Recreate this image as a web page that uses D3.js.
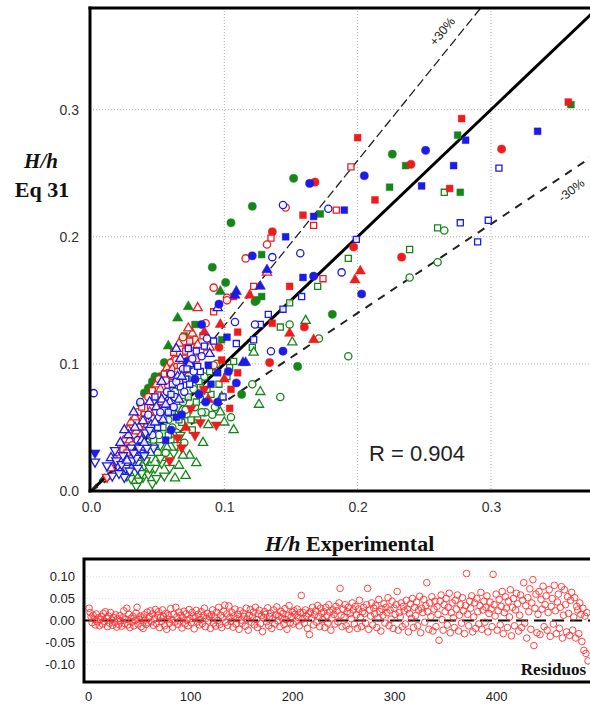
<!DOCTYPE html>
<html><head><meta charset="utf-8">
<script src="https://cdn.jsdelivr.net/npm/d3@7"></script>
<style>body{margin:0;background:#fff} svg{display:block}</style>
</head><body><svg id="c" width="590" height="708"></svg>
<script>
// ---------- DATA ----------
const mainTickValues=[0,0.1,0.2,0.3];
const mainTickLabels=["0.0","0.1","0.2","0.3"];
// codes: fc filled circle, oc open circle, fs filled square, os open square,
// ft filled triangle up, ot open triangle up, fv filled triangle down, ov open triangle down
const greenPts=[
[0.360,0.304,"fs"],[0.275,0.280,"fs"],[0.226,0.265,"fc"],[0.236,0.256,"fs"],[0.224,0.239,"fs"],[0.277,0.235,"fs"],[0.265,0.235,"os"],[0.172,0.218,"fs"],[0.260,0.207,"os"],[0.265,0.205,"oc"],[0.239,0.190,"os"],[0.260,0.180,"oc"],[0.193,0.183,"os"],[0.239,0.168,"oc"],[0.170,0.161,"os"],[0.181,0.139,"fc"],[0.161,0.134,"ot"],[0.171,0.120,"oc"],[0.151,0.117,"ot"],[0.193,0.106,"oc"],[0.155,0.098,"fc"],[0.149,0.131,"oc"],[0.149,0.148,"os"],[0.142,0.129,"os"],[0.121,0.113,"os"],[0.122,0.109,"ot"],[0.107,0.102,"os"],[0.121,0.084,"oc"],[0.127,0.078,"ot"],[0.126,0.068,"ot"],[0.142,0.074,"oc"],[0.113,0.076,"fc"],[0.123,0.149,"fc"],[0.152,0.246,"fc"],[0.121,0.224,"fc"],[0.105,0.211,"fc"],[0.128,0.186,"fs"],[0.091,0.176,"fc"],[0.101,0.164,"fc"],[0.124,0.150,"fc"],[0.128,0.153,"fs"],[0.097,0.157,"ft"],[0.073,0.145,"ft"],[0.065,0.136,"ft"],[0.078,0.131,"fs"],[0.098,0.119,"fs"],[0.058,0.114,"ft"],[0.059,0.097,"fc"],[0.043,0.081,"fc"],[0.037,0.069,"fc"],[0.082,0.082,"os"],[0.100,0.054,"ot"],[0.107,0.048,"ot"],[0.105,0.058,"oc"],[0.084,0.038,"ot"],[0.039,0.011,"ov"],[0.076,0.118,"fc"],[0.046,0.086,"fc"],[0.052,0.090,"fc"],[0.070,0.122,"fs"],[0.104,0.097,"os"],[0.090,0.098,"fc"],[0.048,0.090,"fc"],[0.055,0.101,"fc"],[0.040,0.077,"fc"],
[0.030,0.010,"ov"],[0.033,0.015,"ov"],[0.036,0.008,"ov"],[0.040,0.020,"ov"],[0.043,0.013,"ov"],[0.046,0.006,"ov"],[0.048,0.018,"ov"],[0.045,0.026,"ov"],[0.050,0.030,"oc"],[0.053,0.022,"ov"],[0.055,0.012,"ov"],[0.057,0.034,"ot"],[0.060,0.040,"os"],[0.062,0.030,"ov"],[0.064,0.046,"oc"],[0.066,0.020,"ot"],[0.068,0.054,"os"],[0.070,0.038,"oc"],[0.072,0.060,"os"],[0.074,0.028,"ot"],[0.076,0.048,"os"],[0.078,0.066,"oc"],[0.080,0.056,"os"],[0.082,0.072,"os"],[0.086,0.062,"oc"],[0.088,0.052,"ot"],[0.090,0.076,"os"],[0.093,0.066,"oc"],[0.096,0.084,"os"],[0.098,0.074,"ot"],[0.102,0.090,"os"],[0.035,0.022,"ov"],[0.038,0.030,"ov"],[0.042,0.036,"oc"],[0.047,0.040,"os"],[0.051,0.044,"oc"],[0.054,0.050,"os"],[0.058,0.056,"oc"],[0.061,0.062,"os"],[0.065,0.066,"ov"],[0.069,0.070,"oc"],[0.073,0.074,"os"],[0.077,0.080,"oc"],[0.081,0.086,"os"],[0.085,0.090,"oc"],[0.089,0.094,"os"],[0.094,0.100,"oc"],[0.059,0.018,"ov"],[0.063,0.010,"ot"],[0.067,0.044,"ov"],[0.071,0.012,"ot"],[0.079,0.022,"ot"],[0.052,0.036,"ov"],[0.044,0.044,"ov"],[0.056,0.064,"oc"],[0.063,0.078,"oc"],[0.072,0.088,"os"],[0.091,0.060,"oc"],[0.097,0.062,"ot"],[0.034,0.004,"ov"],[0.027,0.012,"ov"],
[0.038,0.014,"ov"],[0.041,0.024,"ov"],[0.044,0.018,"ov"],[0.049,0.010,"ov"],[0.052,0.026,"ov"],[0.056,0.030,"oc"],[0.058,0.044,"os"],[0.061,0.050,"oc"],[0.064,0.036,"ov"],[0.066,0.056,"os"],[0.069,0.028,"ot"],[0.071,0.064,"oc"],[0.075,0.056,"os"],[0.079,0.070,"os"],[0.083,0.062,"oc"],[0.087,0.080,"os"],[0.048,0.050,"oc"],[0.054,0.058,"os"]
];
const redPts=[
[0.358,0.306,"fs"],[0.278,0.293,"fs"],[0.308,0.269,"fc"],[0.240,0.257,"fc"],[0.200,0.278,"fs"],[0.195,0.255,"os"],[0.168,0.243,"fc"],[0.269,0.238,"fs"],[0.213,0.229,"fs"],[0.159,0.217,"fs"],[0.167,0.209,"os"],[0.184,0.221,"os"],[0.197,0.192,"fc"],[0.233,0.184,"fc"],[0.202,0.173,"ft"],[0.198,0.166,"ft"],[0.174,0.167,"os"],[0.160,0.129,"fc"],[0.167,0.119,"ft"],[0.149,0.161,"fs"],[0.122,0.161,"os"],[0.119,0.154,"ft"],[0.136,0.132,"fs"],[0.110,0.125,"fs"],[0.134,0.101,"fc"],[0.149,0.124,"ft"],[0.146,0.223,"oc"],[0.136,0.204,"fc"],[0.135,0.199,"os"],[0.132,0.194,"oc"],[0.116,0.183,"oc"],[0.132,0.172,"ot"],[0.092,0.160,"oc"],[0.107,0.153,"fs"],[0.102,0.152,"oc"],[0.080,0.144,"ot"],[0.092,0.141,"os"],[0.102,0.150,"oc"],[0.097,0.131,"ft"],[0.076,0.124,"ot"],[0.078,0.119,"oc"],[0.072,0.113,"os"],[0.063,0.105,"ot"],[0.098,0.103,"fs"],[0.054,0.082,"oc"],[0.094,0.052,"fv"],[0.082,0.054,"fv"],[0.068,0.034,"fv"],[0.059,0.024,"fv"],[0.028,0.048,"ot"],[0.012,0.011,"ov"],[0.104,0.065,"fs"],[0.110,0.093,"fs"],
[0.020,0.030,"ot"],[0.023,0.036,"ot"],[0.026,0.041,"oc"],[0.030,0.054,"ot"],[0.033,0.058,"ot"],[0.035,0.062,"oc"],[0.038,0.066,"os"],[0.040,0.071,"ot"],[0.043,0.074,"oc"],[0.046,0.079,"os"],[0.049,0.084,"ot"],[0.051,0.088,"oc"],[0.055,0.092,"os"],[0.057,0.097,"ot"],[0.060,0.101,"oc"],[0.062,0.109,"os"],[0.066,0.116,"ot"],[0.069,0.121,"oc"],[0.073,0.128,"ot"],[0.071,0.110,"os"],[0.059,0.093,"os"],[0.050,0.076,"os"],[0.058,0.083,"oc"],[0.064,0.103,"oc"],[0.045,0.066,"oc"],[0.040,0.060,"os"],[0.036,0.050,"ot"],[0.032,0.044,"oc"],[0.024,0.033,"os"],[0.018,0.022,"ot"],[0.015,0.018,"ot"],[0.022,0.026,"oc"],[0.027,0.030,"os"],[0.062,0.090,"ot"],[0.067,0.098,"os"],[0.075,0.108,"oc"],[0.080,0.115,"ot"],[0.084,0.122,"os"],[0.086,0.132,"oc"],[0.053,0.070,"ot"],[0.048,0.062,"oc"],[0.042,0.052,"os"],[0.066,0.086,"oc"],[0.079,0.104,"os"],[0.089,0.113,"ot"],[0.092,0.099,"oc"],[0.085,0.080,"fv"],[0.075,0.065,"fv"],[0.078,0.044,"fv"],[0.065,0.042,"fv"],[0.071,0.050,"ft"],[0.088,0.072,"ft"],[0.105,0.080,"fs"],[0.100,0.088,"ft"],[0.085,0.125,"ft"],[0.096,0.113,"fc"],[0.070,0.095,"ft"],[0.058,0.068,"ft"],
[0.029,0.040,"ot"],[0.034,0.047,"ot"],[0.039,0.056,"oc"],[0.044,0.062,"ot"],[0.047,0.070,"os"],[0.052,0.080,"ot"],[0.056,0.087,"oc"],[0.061,0.096,"ot"],[0.065,0.094,"os"],[0.070,0.104,"oc"],[0.074,0.118,"os"],[0.082,0.110,"oc"],[0.031,0.036,"oc"],[0.037,0.043,"ot"]
];
const bluePts=[
[0.335,0.283,"fs"],[0.281,0.276,"fs"],[0.306,0.254,"os"],[0.251,0.268,"fc"],[0.272,0.256,"fs"],[0.205,0.248,"fc"],[0.164,0.242,"fc"],[0.248,0.240,"fs"],[0.167,0.216,"fs"],[0.178,0.222,"oc"],[0.190,0.221,"fs"],[0.277,0.211,"os"],[0.298,0.213,"os"],[0.290,0.196,"os"],[0.199,0.198,"os"],[0.188,0.172,"oc"],[0.157,0.187,"oc"],[0.203,0.155,"fc"],[0.159,0.168,"fs"],[0.167,0.169,"fc"],[0.158,0.153,"os"],[0.108,0.154,"ft"],[0.127,0.161,"ft"],[0.144,0.143,"os"],[0.133,0.139,"os"],[0.127,0.131,"os"],[0.123,0.131,"oc"],[0.108,0.133,"oc"],[0.122,0.119,"os"],[0.109,0.116,"os"],[0.135,0.110,"oc"],[0.144,0.110,"fc"],[0.114,0.101,"ft"],[0.109,0.085,"fc"],[0.144,0.225,"oc"],[0.146,0.200,"fs"],[0.136,0.184,"oc"],[0.121,0.185,"fc"],[0.132,0.174,"ft"],[0.109,0.157,"ft"],[0.095,0.144,"ot"],[0.096,0.147,"fc"],[0.072,0.102,"fc"],[0.088,0.099,"fs"],[0.116,0.101,"ft"],[0.082,0.094,"os"],[0.095,0.093,"fs"],[0.095,0.070,"fc"],[0.087,0.120,"oc"],[0.102,0.121,"fs"],[0.083,0.131,"fc"],[0.002,0.077,"oc"],[0.003,0.030,"fv"],[0.003,0.023,"ov"],[0.025,0.011,"ov"],
[0.012,0.020,"ov"],[0.015,0.026,"ot"],[0.018,0.032,"ov"],[0.020,0.020,"ov"],[0.022,0.038,"ot"],[0.024,0.028,"ov"],[0.026,0.018,"ov"],[0.028,0.044,"ot"],[0.030,0.034,"ov"],[0.031,0.024,"ov"],[0.033,0.050,"ot"],[0.035,0.040,"oc"],[0.037,0.030,"ov"],[0.039,0.055,"ot"],[0.041,0.046,"ov"],[0.043,0.060,"oc"],[0.045,0.052,"ot"],[0.047,0.034,"ov"],[0.049,0.066,"ot"],[0.051,0.058,"oc"],[0.053,0.072,"ot"],[0.055,0.064,"os"],[0.057,0.078,"oc"],[0.059,0.070,"ot"],[0.061,0.084,"os"],[0.063,0.074,"oc"],[0.065,0.090,"ot"],[0.067,0.082,"os"],[0.069,0.096,"oc"],[0.071,0.088,"os"],[0.074,0.100,"ot"],[0.077,0.094,"oc"],[0.079,0.110,"os"],[0.083,0.106,"oc"],[0.085,0.114,"os"],[0.089,0.108,"ot"],[0.092,0.118,"os"],[0.016,0.012,"ov"],[0.021,0.014,"ov"],[0.029,0.016,"ov"],[0.034,0.026,"ov"],[0.038,0.040,"ot"],[0.042,0.034,"ov"],[0.046,0.044,"oc"],[0.050,0.050,"os"],[0.054,0.056,"ot"],[0.058,0.062,"os"],[0.062,0.066,"oc"],[0.066,0.072,"ot"],[0.070,0.078,"oc"],[0.074,0.084,"os"],[0.078,0.088,"fc"],[0.068,0.060,"fc"],[0.064,0.058,"fs"],[0.060,0.048,"fc"],[0.056,0.040,"fs"],[0.081,0.076,"fc"],[0.090,0.084,"fs"],[0.086,0.070,"fc"],[0.099,0.074,"os"],[0.103,0.094,"fc"],[0.025,0.048,"ot"],[0.032,0.062,"ot"],[0.037,0.070,"oc"],[0.044,0.070,"ot"],[0.048,0.074,"os"],[0.053,0.086,"ot"],[0.060,0.092,"oc"],[0.067,0.104,"ot"],[0.073,0.112,"os"],[0.064,0.112,"ot"],
[0.019,0.024,"ov"],[0.023,0.021,"ov"],[0.027,0.024,"ot"],[0.032,0.030,"ov"],[0.036,0.034,"ov"],[0.040,0.038,"ot"],[0.044,0.048,"ov"],[0.048,0.054,"ot"],[0.052,0.062,"oc"],[0.056,0.068,"ot"],[0.060,0.076,"os"],[0.064,0.086,"oc"],[0.068,0.090,"ot"],[0.072,0.096,"os"],[0.076,0.104,"oc"],[0.080,0.098,"os"],[0.035,0.018,"ov"],[0.040,0.028,"ov"]
];
const refLineSlopes=[1.0,1.3,0.7];
const refLineLabels=["","+30%","-30%"];
const rLabel="R = 0.904";
const residuals=[
.028,.018,.008,-.005,.012,.003,-.010,.015,-.003,.006,
-.012,.002,.009,-.008,.016,-.002,.020,.005,-.014,.010,
-.006,.018,.001,-.011,.007,-.004,.013,-.015,.004,-.009,
.011,-.001,-.013,.006,.022,-.007,.003,.028,-.010,.014,
-.016,.005,-.003,.009,-.012,.000,.017,.030,-.008,.002,
.010,-.014,.006,-.018,.013,.001,-.009,.019,-.005,.008,
.022,-.003,.015,-.011,.004,.025,-.007,.012,.020,-.016,
.007,-.002,.024,.009,-.012,.016,-.020,.003,.011,-.006,
.027,.002,-.015,.014,-.004,.030,.008,-.009,.019,-.001,
.012,-.017,.006,.021,-.008,.015,.001,-.012,.025,.004,
-.005,.018,.010,-.019,.007,.023,-.003,.014,-.010,.002,
.020,-.007,.011,.028,-.014,.005,.016,-.001,.009,-.018,
.013,.024,-.006,.008,-.013,.019,.000,.030,-.009,.012,
-.016,.006,.021,.035,-.004,.015,-.011,.033,.007,-.002,
.018,-.015,.010,.026,-.008,.004,.014,-.020,.022,.001,
-.006,.017,.009,-.013,.028,.003,-.022,.012,.025,-.004,
.008,.019,-.010,.030,.002,-.016,.015,.023,-.007,.011,
-.025,.006,.020,.014,-.003,.029,-.012,.009,.017,-.018,
.004,.024,-.008,.013,.031,-.001,.010,-.014,.021,.005,
.016,-.009,.027,.002,-.020,.012,.034,-.005,.008,.019,
-.008,.022,.014,-.002,.026,.007,-.012,.018,.057,.003,
.018,-.006,.024,.010,-.018,.015,-.032,.020,.005,.030,
-.010,.013,.022,-.004,.034,.009,-.014,.028,.017,.002,
.020,-.016,.030,.011,-.006,.036,.019,-.022,.006,.024,
.014,-.008,.032,.022,-.003,.040,.073,.012,-.014,.026,
.008,.036,-.012,.020,.030,-.020,.016,.004,.040,.024,
-.008,.032,.013,-.018,.026,.046,.007,-.014,.020,.030,
.016,-.006,.036,.073,-.020,.024,.010,.040,-.010,.028,
.015,.034,-.016,.006,.048,.020,-.024,.026,.012,.038,
-.006,.030,.018,.052,-.012,.024,.003,.044,-.018,.028,
.014,.036,.066,-.022,.018,.008,.040,-.014,.032,.022,
-.008,.046,.026,-.026,.016,.038,.005,.050,-.016,.030,
.011,.042,-.012,.024,.055,-.028,.028,.018,.048,-.004,
.034,.086,.020,-.020,.040,.009,.054,-.024,.026,.044,
-.014,.032,.014,-.045,.044,.058,.002,-.022,.036,.020,
.050,-.010,.030,.062,-.028,.018,.040,.006,-.016,.046,
.026,.058,-.024,.012,.036,-.006,.052,.022,-.030,.034,
.107,.014,-.012,.044,.028,.056,-.026,.008,.040,-.018,
.050,.020,-.008,.034,.064,-.020,.024,.044,-.004,.030,
.056,-.026,.016,.042,.026,-.014,.105,.036,.010,.060,
-.022,.022,.048,-.010,.032,.066,-.030,.018,.054,.028,
-.016,.044,.008,.070,-.035,.030,.050,-.012,.024,.062,
.038,-.024,.012,.058,-.016,.046,.086,-.006,.034,-.040,
.052,.020,.072,-.020,.040,.093,-.057,.028,.060,-.028,
.014,.066,-.032,.048,.026,.078,-.014,.036,.056,-.022,
.018,.070,-.036,.032,.050,-.008,.080,.022,-.030,.042,
.060,-.018,.030,.077,-.040,.012,.070,.036,-.026,.054,
.016,-.034,.046,.064,-.022,.008,.052,-.040,.032,.024,
-.030,.040,.014,-.048,.028,-.068,.010,-.075,.018,-.092
];
const resYTicks=[0.10,0.05,0,-0.05,-0.10];
const resYLabels=["0.10","0.05","0.00","-0.05","-0.10"];
const resXTicks=[0,100,200,300,400];
const resXLabels=["0","100","200","300","400"];

// ---------- DRAW ----------
const svg=d3.select("#c");
const SANS="'Liberation Sans', Arial, sans-serif";
const SERIF="'Liberation Serif', 'Times New Roman', serif";
const x=d3.scaleLinear().domain([0,0.3743]).range([91,590]);
const y=d3.scaleLinear().domain([0,0.38]).range([491,8]);

svg.append("defs").append("clipPath").attr("id","clipMain")
  .append("rect").attr("x",90).attr("y",8).attr("width",500).attr("height",483);

// grid
const grid=svg.append("g");
mainTickValues.filter(d=>d>0).forEach(t=>{
  grid.append("line").attr("x1",x(t)).attr("x2",x(t)).attr("y1",8).attr("y2",491)
    .attr("stroke","#b0b0b0").attr("stroke-width",1).attr("stroke-dasharray","1,2");
  grid.append("line").attr("x1",90).attr("x2",590).attr("y1",y(t)).attr("y2",y(t))
    .attr("stroke","#b0b0b0").attr("stroke-width",1).attr("stroke-dasharray","1,2");
});

// reference lines
const plot=svg.append("g").attr("clip-path","url(#clipMain)");
const lineStyles=[{w:3,d:null,c:"#000"},{w:1.3,d:"9,4",c:"#222"},{w:2,d:"8,7",c:"#222"}];
refLineSlopes.forEach((k,i)=>{
  const xe=0.5;
  const l=plot.append("line").attr("x1",x(0)).attr("y1",y(0)).attr("x2",x(xe)).attr("y2",y(k*xe))
    .attr("stroke",lineStyles[i].c).attr("stroke-width",lineStyles[i].w);
  if(lineStyles[i].d) l.attr("stroke-dasharray",lineStyles[i].d);
});

// points
const shapeMap={c:d3.symbolCircle,s:d3.symbolSquare,t:d3.symbolTriangle,v:d3.symbolTriangle};
const sizeMap={c:52,s:46,t:46,v:46};
function drawPts(arr,color){
  plot.append("g").selectAll("path").data(arr).join("path")
    .attr("d",d=>d3.symbol().type(shapeMap[d[2][1]]).size(d[2][0]==="f"?sizeMap[d[2][1]]:sizeMap[d[2][1]]*0.8)())
    .attr("transform",d=>`translate(${x(d[0])},${y(d[1])})`+(d[2][1]==="v"?" rotate(180)":""))
    .attr("fill",d=>d[2][0]==="f"?color:"#fff")
    .attr("fill-opacity",d=>d[2][0]==="f"?1:0.85)
    .attr("stroke",color)
    .attr("stroke-width",d=>d[2][0]==="f"?0.5:1.3);
}
drawPts(greenPts,"#17861a");
drawPts(redPts,"#ee1c1c");
drawPts(bluePts,"#1c1ce6");

// ref labels
svg.append("text").attr("transform","translate(443,32) rotate(-51)").attr("text-anchor","middle")
  .attr("dominant-baseline","middle").attr("font-family",SANS).attr("font-size",12.5).attr("fill","#222").text(refLineLabels[1]);
svg.append("text").attr("transform","translate(572,191) rotate(-38)").attr("text-anchor","middle")
  .attr("dominant-baseline","middle").attr("font-family",SANS).attr("font-size",12.5).attr("fill","#222").text(refLineLabels[2]);

// borders
svg.append("line").attr("x1",90).attr("x2",90).attr("y1",6.5).attr("y2",492.5).attr("stroke","#000").attr("stroke-width",3);
svg.append("line").attr("x1",88.5).attr("x2",590).attr("y1",8).attr("y2",8).attr("stroke","#000").attr("stroke-width",3);
svg.append("line").attr("x1",88.5).attr("x2",590).attr("y1",491).attr("y2",491).attr("stroke","#000").attr("stroke-width",3);

// axes
const yAxis=d3.axisLeft(y).tickValues(mainTickValues).tickFormat((d,i)=>mainTickLabels[i]).tickSize(0).tickPadding(12);
const gy=svg.append("g").attr("transform","translate(91,0)").call(yAxis);
gy.select(".domain").remove();
gy.selectAll("text").attr("font-family",SANS).attr("font-size",14).attr("fill","#333");
const xAxis=d3.axisBottom(x).tickValues(mainTickValues).tickFormat((d,i)=>mainTickLabels[i]).tickSize(0).tickPadding(11);
const gx=svg.append("g").attr("transform","translate(0,491)").call(xAxis);
gx.select(".domain").remove();
gx.selectAll("text").attr("font-family",SANS).attr("font-size",14).attr("fill","#333");

// titles
svg.append("text").attr("x",41).attr("y",168).attr("text-anchor","middle").attr("font-family",SERIF)
  .attr("font-size",21).attr("font-weight","bold").attr("font-style","italic").attr("fill","#111").text("H/h");
svg.append("text").attr("x",42).attr("y",197).attr("text-anchor","middle").attr("font-family",SERIF)
  .attr("font-size",22).attr("font-weight","bold").attr("fill","#111").text("Eq 31");
const xt=svg.append("text").attr("x",265).attr("y",551).attr("font-family",SERIF)
  .attr("font-size",22).attr("font-weight","bold").attr("fill","#111");
xt.append("tspan").attr("font-style","italic").text("H/h");
xt.append("tspan").text(" Experimental");

svg.append("text").attr("x",369).attr("y",461).attr("font-family",SANS).attr("font-size",22).attr("fill","#222").text(rLabel);

// ---------- RESIDUALS ----------
const xr=d3.scaleLinear().domain([-4,492]).range([84,590]);
const yr=d3.scaleLinear().domain([-0.14,0.14]).range([682,559]);
const rg=svg.append("g");
resYTicks.forEach(t=>{
  rg.append("line").attr("x1",84).attr("x2",590).attr("y1",yr(t)).attr("y2",yr(t))
    .attr("stroke","#e4e4e4").attr("stroke-width",1).attr("stroke-dasharray","1,2");
});
rg.append("line").attr("x1",84).attr("x2",590).attr("y1",yr(0)).attr("y2",yr(0))
  .attr("stroke","#000").attr("stroke-width",1.8).attr("stroke-dasharray","12,6");
rg.selectAll("circle").data(residuals).join("circle")
  .attr("cx",(d,i)=>xr(i+1)).attr("cy",d=>yr(d)).attr("r",3.3)
  .attr("fill","none").attr("stroke","#ff3030").attr("stroke-width",0.9);
rg.append("rect").attr("x",84).attr("y",559).attr("width",520).attr("height",123)
  .attr("fill","none").attr("stroke","#000").attr("stroke-width",3);
const ryAxis=d3.axisLeft(yr).tickValues(resYTicks).tickFormat((d,i)=>resYLabels[i]).tickSize(0).tickPadding(9);
const gry=svg.append("g").attr("transform","translate(84,0)").call(ryAxis);
gry.select(".domain").remove();
gry.selectAll("text").attr("font-family",SANS).attr("font-size",13).attr("fill","#222");
const rxAxis=d3.axisBottom(xr).tickValues(resXTicks).tickFormat((d,i)=>resXLabels[i]).tickSize(0).tickPadding(10);
const grx=svg.append("g").attr("transform","translate(0,682)").call(rxAxis);
grx.select(".domain").remove();
grx.selectAll("text").attr("font-family",SANS).attr("font-size",13).attr("fill","#222");
svg.append("text").attr("x",586).attr("y",675).attr("text-anchor","end").attr("font-family",SERIF)
  .attr("font-size",17).attr("font-weight","bold").attr("fill","#111").text("Residuos");
</script></body></html>
